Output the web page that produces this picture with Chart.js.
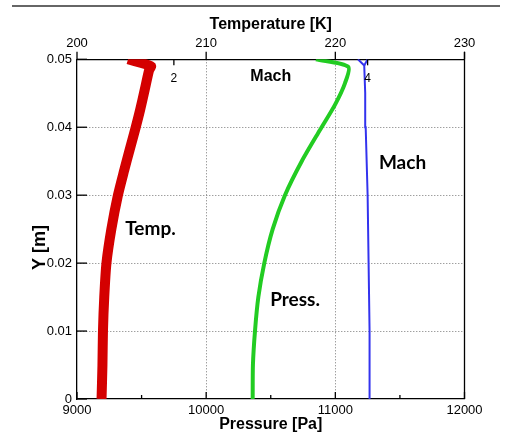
<!DOCTYPE html>
<html><head><meta charset="utf-8">
<script src="https://cdn.jsdelivr.net/npm/chart.js@4/dist/chart.umd.min.js"></script>
<style>html,body{margin:0;padding:0;background:#fff;overflow:hidden}</style>
</head><body>
<canvas id="c" width="513" height="434"></canvas>
<script>
// ---- data ----
const yTemp   = [0, 0.005, 0.01, 0.015, 0.02, 0.025, 0.03, 0.0337, 0.0367, 0.0398, 0.0425, 0.0455, 0.0484, 0.049, 0.05];
const tempK   = [201.90, 201.97, 202.01, 202.11, 202.28, 202.66, 203.17, 203.66, 204.08, 204.52, 204.88, 205.24, 205.58, 205.72, 203.95];
const yPress  = [0, 0.005, 0.01, 0.015, 0.02, 0.025, 0.03, 0.035, 0.0396, 0.0433, 0.0465, 0.0489, 0.05];
const pressPa = [10360, 10362, 10378, 10404, 10450, 10515, 10610, 10740, 10881, 10997, 11075, 11100, 10850];
const yMach   = [0, 0.01, 0.02, 0.03, 0.04, 0.045, 0.0491, 0.05];
const mach    = [4.02, 4.02, 4.01, 4.00, 3.98, 3.975, 3.965, 3.90];
const yMachAlt = [0.0491, 0.05];
const machAlt  = [3.965, 4.00];

const yTicks     = [0, 0.01, 0.02, 0.03, 0.04, 0.05];
const pressTicks = [9000, 10000, 11000, 12000];
const pressMinor = [9500, 10500, 11500];
const tempTicks  = [200, 210, 220, 230];
const machTicks  = [2, 4];

const pts = (xs, ys) => xs.map((v, i) => ({x: v, y: ys[i]}));
const setTicks = arr => (s => { s.ticks = arr.map(v => ({value: v})); });

const AR = "'Liberation Sans', Arial, sans-serif";
Chart.defaults.font.family = AR;
Chart.defaults.color = '#000';

const deco = {
  id: 'deco',
  afterDraw(chart) {
    const {ctx, chartArea: a, scales} = chart;
    const {xP, xT, xM, y} = scales;
    const line = (x1, y1, x2, y2) => { ctx.beginPath(); ctx.moveTo(x1, y1); ctx.lineTo(x2, y2); ctx.stroke(); };
    ctx.save();
    ctx.strokeStyle = '#000'; ctx.lineWidth = 1.3;
    line(a.right, a.top - 7.5, a.right, a.bottom);
    yTicks.forEach(v => { const p = y.getPixelForValue(v); line(a.left, p, a.left + 10, p); });
    pressTicks.forEach(v => { const p = xP.getPixelForValue(v); line(p, a.bottom, p, a.bottom - 7); });
    pressMinor.forEach(v => { const p = xP.getPixelForValue(v); line(p, a.bottom, p, a.bottom - 4); });
    tempTicks.forEach(v => { const p = xT.getPixelForValue(v); line(p, a.top, p, a.top - 7.5); });
    machTicks.forEach(v => { const p = xM.getPixelForValue(v); line(p, a.top, p, a.top + 6); });
    ctx.fillStyle = '#000';
    ctx.textAlign = 'center'; ctx.textBaseline = 'middle';
    ctx.font = '12px ' + AR;
    machTicks.forEach(v => ctx.fillText(String(v), xM.getPixelForValue(v), a.top + 19));
    ctx.font = 'bold 16px ' + AR;
    ctx.fillText('Mach', xM.getPixelForValue(3), y.getPixelForValue(0.0475));
    ctx.font = "bold 19px Lato, 'Open Sans', sans-serif";
    ctx.fillText('Mach', xP.getPixelForValue(11520), y.getPixelForValue(0.0347));
    ctx.fillText('Temp.', xT.getPixelForValue(205.69), y.getPixelForValue(0.0250));
    ctx.fillText('Press.', xP.getPixelForValue(10688), y.getPixelForValue(0.0146));
    // Y axis title (placed lower than the scale centre, as in the reference)
    ctx.save();
    ctx.translate(40, y.getPixelForValue(0.0223));
    ctx.rotate(-Math.PI / 2);
    ctx.font = 'bold 18px ' + AR;
    ctx.fillText('Y [m]', 0, 0);
    ctx.restore();
    ctx.strokeStyle = '#333'; ctx.lineWidth = 1.5;
    line(12, 6, 500, 6);
    ctx.restore();
  }
};

const gridDash = {display: true, color: '#000', width: 1.3, dash: [1, 2]};

new Chart(document.getElementById('c'), {
  type: 'scatter',
  data: {
    datasets: [
      {data: pts(tempK, yTemp), xAxisID: 'xT', yAxisID: 'y', showLine: true, borderColor: '#d40000', borderWidth: 10, pointRadius: 0, tension: 0.25, clip: 0},
      {data: pts(pressPa, yPress), xAxisID: 'xP', yAxisID: 'y', showLine: true, borderColor: '#22cc22', borderWidth: 4, pointRadius: 0, tension: 0.25, clip: 0},
      {data: pts(mach, yMach), xAxisID: 'xM', yAxisID: 'y', showLine: true, borderColor: '#3333ee', borderWidth: 2, pointRadius: 0, tension: 0, clip: 0},
      {data: pts(machAlt, yMachAlt), xAxisID: 'xM', yAxisID: 'y', showLine: true, borderColor: '#3333ee', borderWidth: 2, pointRadius: 0, tension: 0, clip: 0}
    ]
  },
  options: {
    responsive: false, animation: false, events: [],
    layout: {padding: {left: 0, top: 0, bottom: 0, right: 48.5}},
    plugins: {legend: {display: false}, tooltip: {enabled: false}},
    scales: {
      xP: {
        type: 'linear', position: 'bottom', min: 9000, max: 12000,
        afterBuildTicks: setTicks(pressTicks),
        afterFit: s => { s.height = 35; },
        ticks: {padding: 4, maxRotation: 0, autoSkip: false, font: {size: 13}, callback: v => String(Math.round(v))},
        grid: {drawTicks: false, lineWidth: 1, color: c => (c.tick && (c.tick.value === 9000 || c.tick.value === 12000)) ? 'rgba(0,0,0,0)' : '#777'},
        border: gridDash,
        title: {display: true, text: 'Pressure [Pa]', font: {size: 16, weight: 'bold'}, padding: {top: 1.4, bottom: 0}}
      },
      xT: {
        type: 'linear', position: 'top', min: 200, max: 230,
        afterBuildTicks: setTicks(tempTicks),
        afterFit: s => { s.height = 59.3; },
        ticks: {padding: 8.5, maxRotation: 0, autoSkip: false, font: {size: 13}, callback: v => String(Math.round(v))},
        grid: {drawTicks: false, drawOnChartArea: false},
        border: {display: true, color: '#000', width: 1.3},
        title: {display: true, text: 'Temperature [K]', font: {size: 16, weight: 'bold'}, padding: {top: 15.2, bottom: 0}}
      },
      xM: {type: 'linear', position: 'top', min: 1, max: 5, display: false},
      y: {
        type: 'linear', position: 'left', min: 0, max: 0.05,
        afterBuildTicks: setTicks(yTicks),
        afterFit: s => { s.width = 77; },
        ticks: {padding: 5, font: {size: 13}, callback: v => v === 0 ? '0' : v.toFixed(2)},
        grid: {drawTicks: false, lineWidth: 1, color: c => (c.tick && (c.tick.value === 0 || c.tick.value === 0.05)) ? 'rgba(0,0,0,0)' : '#777'},
        border: gridDash,
        title: {display: false}
      }
    }
  },
  plugins: [deco]
});
</script>
</body></html>
